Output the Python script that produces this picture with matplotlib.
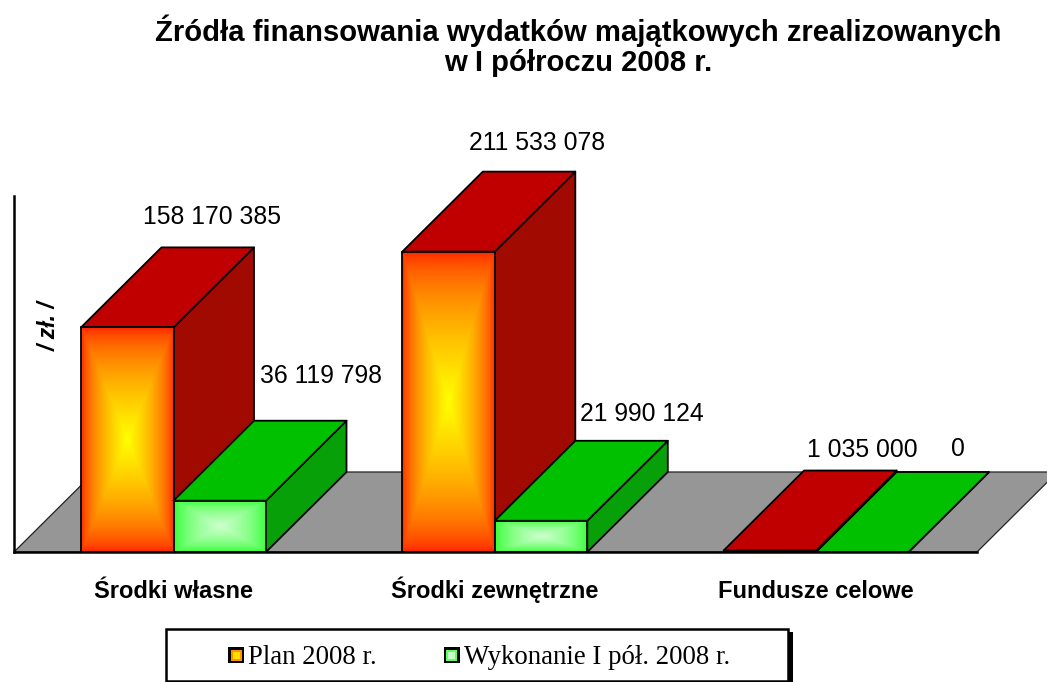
import numpy as np
import matplotlib
matplotlib.use("Agg")
import matplotlib.pyplot as plt
from matplotlib.patches import Polygon, Patch, Rectangle
from matplotlib.legend_handler import HandlerBase

# ---- data ----
categories = ["Środki własne", "Środki zewnętrzne", "Fundusze celowe"]
series_names = ["Plan 2008 r.", "Wykonanie I pół. 2008 r."]
plan = [158170385, 211533078, 1035000]
wykonanie = [36119798, 21990124, 0]
title_lines = ["Źródła finansowania wydatków majątkowych zrealizowanych", "w I półroczu 2008 r."]
y_label = "/ zł. /"

# ---- layout (pixels) ----
W, H = 1047, 682
PX_LEFT, PX_BASE, PX_TOP = 14, 552, 196
GROUP_PX, BAR_PX, X0_PX = 321.3, 92.5, 81
DEPTH_X, DEPTH_Y = 80.5, 80
PX_PER_VALUE = 1.42e-6

fig = plt.figure(figsize=(W / 100, H / 100), dpi=100, facecolor="white")
ax = fig.add_axes([PX_LEFT / W, 1 - PX_BASE / H, (W - PX_LEFT) / W, (PX_BASE - PX_TOP) / H])
ax.set_facecolor("none")
ax.set_xlim((PX_LEFT - X0_PX) / GROUP_PX, (W - X0_PX) / GROUP_PX)
ax.set_ylim(0, (PX_BASE - PX_TOP) / PX_PER_VALUE)

bw = BAR_PX / GROUP_PX
dx = DEPTH_X / GROUP_PX
dy = DEPTH_Y / PX_PER_VALUE
EDGE = 1.3

# ---- floor ----
fx0 = ax.get_xlim()[0]
fx1 = (977 - X0_PX) / GROUP_PX
ax.add_patch(Polygon([(fx0, 0), (fx1, 0), (fx1 + dx, dy), (fx0 + dx, dy)], closed=True,
                     facecolor="#969696", edgecolor="#222222", lw=0.9, zorder=1, clip_on=True))


def gradient(outer, inner):
    n = 201
    u = np.linspace(-1, 1, n)
    uu, vv = np.meshgrid(u, u)
    t = 1 - np.maximum(np.abs(uu), np.abs(vv))
    t = t[..., None] ** 0.6
    return (np.array(outer) * (1 - t) + np.array(inner) * t) / 255


styles = [
    dict(top="#C00000", side="#A00A00", outer=(255, 30, 0), inner=(255, 255, 0)),
    dict(top="#00C000", side="#08A008", outer=(40, 255, 40), inner=(205, 255, 205)),
]

z = 2
for i in range(len(categories)):
    for j, vals in enumerate([plan, wykonanie]):
        v = vals[i]
        st = styles[j]
        x0 = i + j * bw
        x1 = x0 + bw
        kw = dict(closed=True, edgecolor="black", lw=EDGE, clip_on=False, joinstyle="round")
        ax.add_patch(Polygon([(x1, 0), (x1 + dx, dy), (x1 + dx, v + dy), (x1, v)],
                             facecolor=st["side"], zorder=z, **kw))
        ax.add_patch(Polygon([(x0, v), (x1, v), (x1 + dx, v + dy), (x0 + dx, v + dy)],
                             facecolor=st["top"], zorder=z + 1, **kw))
        if v > 0:
            im = ax.imshow(gradient(st["outer"], st["inner"]), extent=(x0, x1, 0, v),
                           aspect="auto", zorder=z + 2, interpolation="bilinear")
            im.set_clip_on(False)
            ax.add_patch(Rectangle((x0, 0), bw, v, facecolor="none", edgecolor="black",
                                   lw=EDGE, zorder=z + 3, clip_on=False))
        z += 4

ax.set_xlim((PX_LEFT - X0_PX) / GROUP_PX, (W - X0_PX) / GROUP_PX)
ax.set_ylim(0, (PX_BASE - PX_TOP) / PX_PER_VALUE)

# ---- value labels ----
def fmt(v):
    return f"{v:,}".replace(",", " ")

sans = "Liberation Sans"
label_offsets = {  # pixel offset from top-back centre of each bar
    (0, 0): (4, 30), (0, 1): (21, 45), (1, 0): (8, 29), (1, 1): (20, 27),
    (2, 0): (12, 21), (2, 1): (15, 23),
}
for i in range(len(categories)):
    for j, vals in enumerate([plan, wykonanie]):
        v = vals[i]
        xc = i + j * bw + bw / 2 + dx
        ox, oy = label_offsets[(i, j)]
        ax.annotate(fmt(v), (xc, v + dy), xytext=(ox * 0.72, oy * 0.72), textcoords="offset points",
                    ha="center", va="center", fontsize=17.8, family=sans, color="black",
                    annotation_clip=False, zorder=200)

# ---- axes ----
for s in ["top", "right"]:
    ax.spines[s].set_visible(False)
for s in ["left", "bottom"]:
    ax.spines[s].set_linewidth(1.8)
    ax.spines[s].set_zorder(150)
ax.spines["bottom"].set_bounds(ax.get_xlim()[0], fx1)
ax.set_yticks([])
ax.set_xticks([i + bw for i in range(len(categories))])
ax.set_xticklabels(categories, fontsize=17, fontweight="bold", family=sans, va="baseline")
ax.tick_params(axis="x", length=0, pad=33)
ax.set_ylabel(y_label, fontsize=16.5, fontweight="bold", fontstyle="italic", family=sans)
ax.yaxis.set_label_coords((61 - PX_LEFT) / (W - PX_LEFT), (PX_BASE - 326) / (PX_BASE - PX_TOP))

# ---- title ----
fig.text(578 / W, 1 - 41 / H, title_lines[0], ha="center", va="baseline", fontsize=21.1,
         fontweight="bold", family=sans)
fig.text(578 / W, 1 - 71 / H, title_lines[1], ha="center", va="baseline", fontsize=21.1,
         fontweight="bold", family=sans)


# ---- legend ----
class NestedHandle(HandlerBase):
    def __init__(self, outer, inner):
        super().__init__()
        self.outer, self.inner = outer, inner

    def create_artists(self, legend, orig, xd, yd, w, h, fs, trans):
        s = 11.5
        cx, cy = -xd + w / 2 - s / 2, -yd + h / 2 - s / 2
        k = Rectangle((cx, cy), s, s, facecolor="black", edgecolor="none", transform=trans)
        a = Rectangle((cx + 1.8, cy + 1.8), s - 3.6, s - 3.6, facecolor=self.outer, edgecolor="none", transform=trans)
        b = Rectangle((cx + 3.2, cy + 3.2), s - 6.4, s - 6.4, facecolor=self.inner, edgecolor="none", transform=trans)
        return [k, a, b]


fig.add_artist(Rectangle((171 / W, 0), 622 / W, 1 - 632 / H, transform=fig.transFigure,
                         facecolor="black", edgecolor="none", zorder=5))
fig.add_artist(Rectangle((165.5 / W, 1 - 681 / H), 622 / W, 52.5 / H, transform=fig.transFigure,
                         facecolor="white", edgecolor="black", lw=1.8, zorder=6))
h1, h2 = Patch(label=series_names[0]), Patch(label=series_names[1])
leg = fig.legend(handles=[h1, h2], loc="center left", bbox_to_anchor=(228 / W, 1 - 658 / H),
                 ncol=2, frameon=False, borderpad=0, handlelength=0.6, handletextpad=0.15,
                 columnspacing=2.5, borderaxespad=0,
                 prop={"family": "Liberation Serif", "size": 19.3},
                 handler_map={h1: NestedHandle("#FF9000", "#FFE000"), h2: NestedHandle("#60FF60", "#C8FFC8")})
leg.set_zorder(10)

fig.savefig("out.png", dpi=100)
